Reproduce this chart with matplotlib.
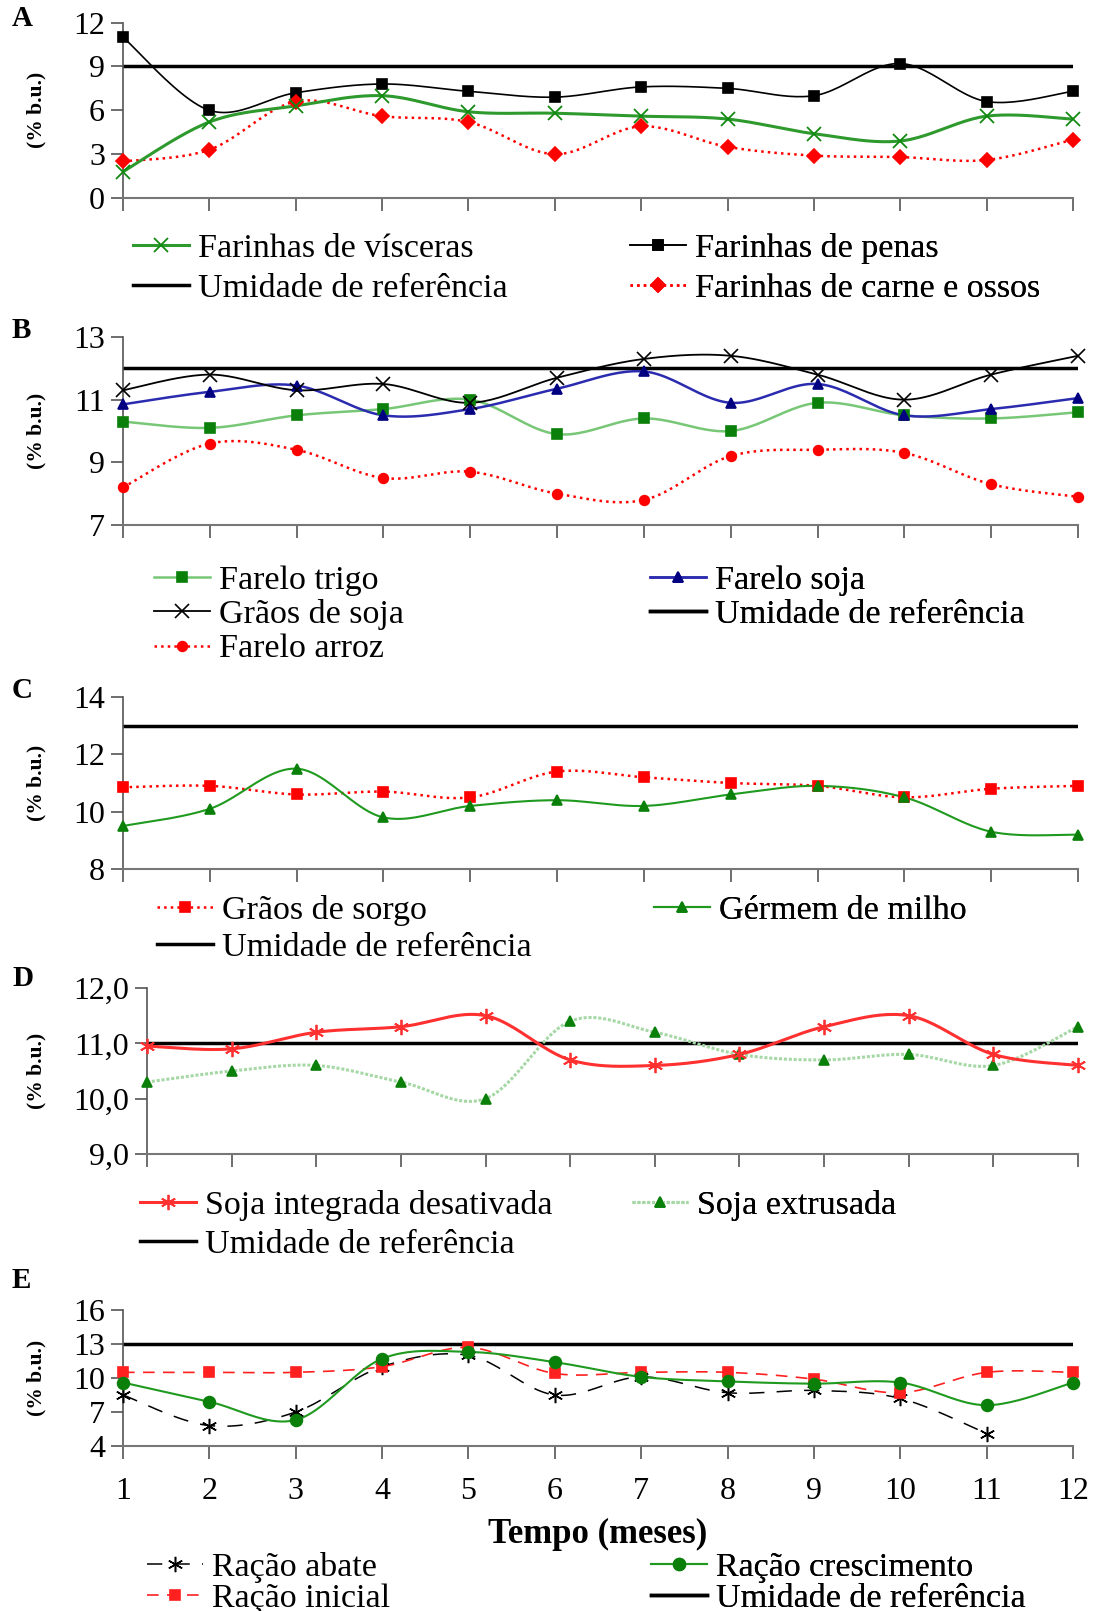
import numpy as np
import matplotlib
matplotlib.use("Agg")
import matplotlib.pyplot as plt
from matplotlib.lines import Line2D

plt.rcParams['font.family'] = ['Liberation Serif', 'DejaVu Serif']

meses = list(range(1, 13))

# A
visceras = [1.8, 5.2, 6.3, 7.0, 5.9, 5.8, 5.6, 5.4, 4.4, 3.9, 5.6, 5.4]
penas = [11.0, 6.0, 7.2, 7.8, 7.3, 6.9, 7.6, 7.5, 7.0, 9.2, 6.6, 7.3]
carne_ossos = [2.5, 3.3, 6.6, 5.6, 5.2, 3.0, 4.9, 3.5, 2.9, 2.8, 2.6, 4.0]
ref_a = 9

# B
farelo_trigo = [10.3, 10.1, 10.5, 10.7, 11.0, 9.9, 10.4, 10.0, 10.9, 10.5, 10.4, 10.6]
farelo_soja = [10.85, 11.25, 11.45, 10.5, 10.7, 11.35, 11.9, 10.9, 11.5, 10.5, 10.7, 11.05]
graos_soja = [11.3, 11.8, 11.3, 11.5, 10.9, 11.7, 12.3, 12.4, 11.8, 11.0, 11.8, 12.4]
farelo_arroz = [8.2, 9.6, 9.4, 8.5, 8.7, 8.0, 7.8, 9.2, 9.4, 9.3, 8.3, 7.9]
ref_b = 12

# C
sorgo = [10.85, 10.9, 10.6, 10.7, 10.5, 11.4, 11.2, 11.0, 10.9, 10.5, 10.8, 10.9]
germem = [9.5, 10.1, 11.5, 9.8, 10.2, 10.4, 10.2, 10.6, 10.9, 10.5, 9.3, 9.2]
ref_c = 13

# D
soja_integrada = [10.95, 10.9, 11.2, 11.3, 11.5, 10.7, 10.6, 10.8, 11.3, 11.5, 10.8, 10.6]
soja_extrusada = [10.3, 10.5, 10.6, 10.3, 10.0, 11.4, 11.2, 10.8, 10.7, 10.8, 10.6, 11.3]
ref_d = 11

# E
racao_abate = [8.5, 5.8, 7.0, 11.0, 12.0, 8.5, 10.1, 8.7, 8.9, 8.2, 5.1]
racao_cresc = [9.6, 7.9, 6.3, 11.7, 12.3, 11.4, 10.1, 9.7, 9.5, 9.6, 7.6, 9.6]
racao_inicial = [10.5, 10.5, 10.5, 11.0, 12.7, 10.4, 10.5, 10.5, 9.9, 8.7, 10.5, 10.5]
ref_e = 13

W, H = 1099, 1611
fig = plt.figure(figsize=(W / 100, H / 100), dpi=100)


def fx(p):
    return p / W


def fy(p):
    return 1 - p / H


def smooth(x, y, n=24):
    # Excel-like smoothed line (Catmull-Rom as cubic Bezier)
    x = np.asarray(x, float)
    y = np.asarray(y, float)
    px = np.concatenate([[x[0]], x, [x[-1]]])
    py = np.concatenate([[y[0]], y, [y[-1]]])
    t = np.linspace(0, 1, n, endpoint=False)[:, None]
    out = []
    for i in range(len(x) - 1):
        p0 = np.array([px[i], py[i]])
        p1 = np.array([px[i + 1], py[i + 1]])
        p2 = np.array([px[i + 2], py[i + 2]])
        p3 = np.array([px[i + 3], py[i + 3]])
        c1 = p1 + (p2 - p0) / 6
        c2 = p2 - (p3 - p1) / 6
        b = ((1 - t) ** 3) * p1 + 3 * ((1 - t) ** 2) * t * c1 + 3 * (1 - t) * t ** 2 * c2 + t ** 3 * p2
        out.append(b)
    out.append(np.array([[x[-1], y[-1]]]))
    pts = np.vstack(out)
    return pts[:, 0], pts[:, 1]


spine_col = '#555555'


def make_axes(left, right, top, bottom, ylim, yticks, ylabels, letter, letter_y, last=False):
    ax = fig.add_axes([fx(left), fy(bottom), fx(right - left), (bottom - top) / H])
    ax.set_xlim(1, 12)
    ax.set_ylim(*ylim)
    ax.set_yticks(yticks)
    ax.set_yticklabels(ylabels)
    ax.set_xticks(meses)
    if not last:
        ax.set_xticklabels([])
    for s in ['top', 'right']:
        ax.spines[s].set_visible(False)
    ax.spines['left'].set_color(spine_col)
    ax.spines['bottom'].set_color('#777777')
    ax.spines['left'].set_linewidth(1.2)
    ax.spines['bottom'].set_linewidth(1.5)
    ax.tick_params(axis='y', direction='out', length=9, width=1.2, color=spine_col,
                   labelsize=23, pad=4)
    ax.tick_params(axis='x', direction='out', length=9, width=1.2, color=spine_col,
                   labelsize=23, pad=13)
    ax.patch.set_alpha(0)
    fig.text(fx(36), fy((top + bottom) / 2), '(% b.u.)', rotation=90, ha='center', va='center',
             fontsize=15.5, fontweight='bold')
    fig.text(fx(12), fy(letter_y), letter, ha='left', va='center', fontsize=21, fontweight='bold')
    return ax


def series(ax, x, y, color, ls='-', lw=1.5, marker='s', ms=7, mcolor=None, mew=1.2, z=3):
    mcolor = mcolor or color
    sx, sy = smooth(x, y)
    ax.plot(sx, sy, color=color, ls=ls, lw=lw, zorder=z)
    ax.plot(x, y, ls='none', marker=marker, ms=ms, color=mcolor, mec=mcolor, mew=mew,
            zorder=z + 1, clip_on=False)
    return Line2D([], [], color=color, ls=ls, lw=lw, marker=marker, ms=ms, mfc=mcolor,
                  mec=mcolor, mew=mew)


def ref_line(ax, val):
    ax.axhline(val, color='black', lw=2.5, zorder=2)
    return Line2D([], [], color='black', lw=2.5)


def legend_col(ax, handles, labels, x, y, spacing):
    leg = ax.legend(handles, labels, loc='upper left', bbox_to_anchor=(fx(x), fy(y)),
                    bbox_transform=fig.transFigure, frameon=False, fontsize=24.5,
                    handlelength=1.65, handletextpad=0.25, borderpad=0, borderaxespad=0,
                    labelspacing=spacing, numpoints=1)
    ax.add_artist(leg)
    return leg


asterisk = (6, 2, 0)

# ---------------- A
ax = make_axes(123, 1073, 22.6, 198, (0, 12), [0, 3, 6, 9, 12], ['0', '3', '6', '9', '12'], 'A', 18)
h_ref = ref_line(ax, ref_a)
h_pen = series(ax, meses, penas, 'black', lw=1.2, marker='s', ms=6.5)
h_car = series(ax, meses, carne_ossos, '#ff0000', ls=':', lw=1.8, marker='D', ms=7)
h_vis = series(ax, meses, visceras, '#2e9a2e', lw=2.2, marker='x', ms=10, mcolor='#128a12', mew=1.3)
legend_col(ax, [h_vis, h_ref], ['Farinhas de vísceras', 'Umidade de referência'], 133, 233, 0.28)
legend_col(ax, [h_pen, h_car], ['Farinhas de penas', 'Farinhas de carne e ossos'], 630, 233, 0.28)

# ---------------- B
ax = make_axes(123, 1078, 337, 525, (7, 13), [7, 9, 11, 13], ['7', '9', '11', '13'], 'B', 330)
h_ref = ref_line(ax, ref_b)
h_arr = series(ax, meses, farelo_arroz, '#ff0000', ls=':', lw=1.8, marker='o', ms=7)
h_tri = series(ax, meses, farelo_trigo, '#77c777', lw=1.8, marker='s', ms=6.5, mcolor='#0a800a')
h_soj = series(ax, meses, farelo_soja, '#2b2bb0', lw=1.8, marker='^', ms=7.5, mcolor='#000080')
h_gra = series(ax, meses, graos_soja, 'black', lw=1.3, marker='x', ms=10, mew=1.2)
legend_col(ax, [h_tri, h_gra, h_arr], ['Farelo trigo', 'Grãos de soja', 'Farelo arroz'], 154, 565, 0.1)
legend_col(ax, [h_soj, h_ref], ['Farelo soja', 'Umidade de referência'], 650, 565, 0.1)

# ---------------- C
ax = make_axes(123, 1078, 697, 869, (8, 14), [8, 10, 12, 14], ['8', '10', '12', '14'], 'C', 690)
h_ref = ref_line(ax, ref_c)
h_sor = series(ax, meses, sorgo, '#ff0000', ls=':', lw=1.8, marker='s', ms=6.5)
h_ger = series(ax, meses, germem, '#1f9a1f', lw=1.5, marker='^', ms=7.5, mcolor='#0a800a')
legend_col(ax, [h_sor, h_ref], ['Grãos de sorgo', 'Umidade de referência'], 157, 895, 0.18)
legend_col(ax, [h_ger], ['Gérmem de milho'], 654, 895, 0.18)

# ---------------- D
ax = make_axes(147, 1078, 988, 1154, (9, 12), [9, 10, 11, 12], ['9,0', '10,0', '11,0', '12,0'], 'D', 979)
h_ref = ref_line(ax, ref_d)
h_ext = series(ax, meses, soja_extrusada, '#a6d8a6', ls=(0, (1, 0.6)), lw=2.2, marker='^', ms=7.5,
               mcolor='#0a800a')
h_int = series(ax, meses, soja_integrada, '#ff3030', lw=2.2, marker=asterisk, ms=11, mew=1.3)
legend_col(ax, [h_int, h_ref], ['Soja integrada desativada', 'Umidade de referência'], 140, 1190, 0.24)
legend_col(ax, [h_ext], ['Soja extrusada'], 632, 1190, 0.24)

# ---------------- E
ax = make_axes(123, 1073, 1310, 1446, (4, 16), [4, 7, 10, 13, 16], ['4', '7', '10', '13', '16'], 'E', 1280,
               last=True)
h_ref = ref_line(ax, ref_e)
h_aba = series(ax, meses[:len(racao_abate)], racao_abate, 'black', ls=(0, (10, 8)), lw=1.1,
               marker=asterisk, ms=11, mew=1.1)
h_ini = series(ax, meses, racao_inicial, '#ff2020', ls=(0, (7, 5)), lw=1.2, marker='s', ms=6.5)
h_cre = series(ax, meses, racao_cresc, '#1f9a1f', lw=1.5, marker='o', ms=8.5, mcolor='#0a800a')
ax.set_xlabel('Tempo (meses)', fontsize=25, fontweight='bold', labelpad=9)
legend_col(ax, [h_aba, h_ini], ['Ração abate', 'Ração inicial'], 147, 1552, 0.0)
legend_col(ax, [h_cre, h_ref], ['Ração crescimento', 'Umidade de referência'], 651, 1552, 0.0)

fig.savefig('out.png', dpi=100)
